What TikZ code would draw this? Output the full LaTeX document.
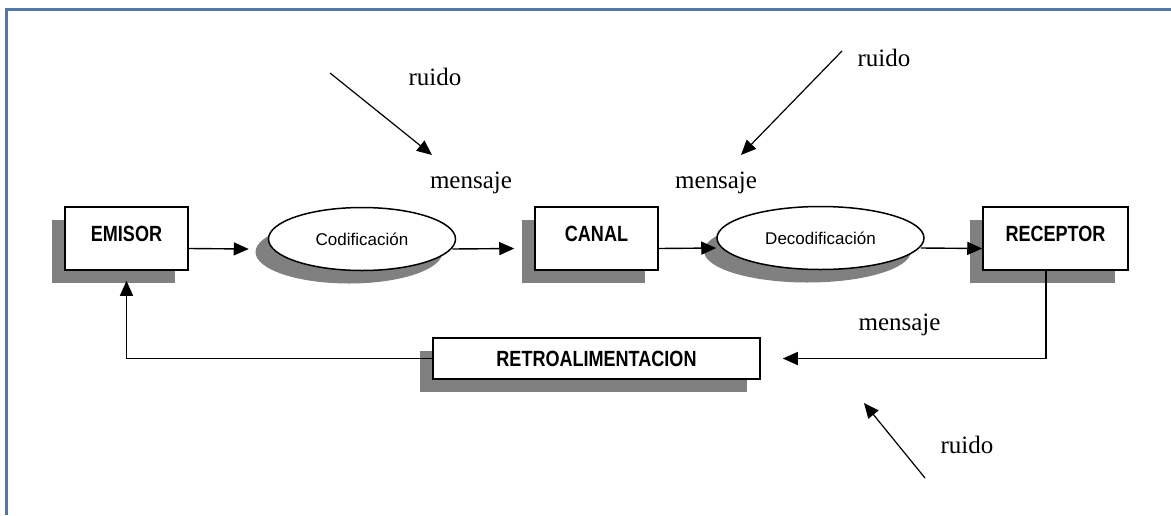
\documentclass[tikz,border=0pt]{standalone}
\usepackage{fontspec}
\setmainfont{Liberation Serif}
\newfontfamily\cajafont[FakeStretch=0.82]{Liberation Sans}
\newfontfamily\elipsefont{Liberation Sans}
\usetikzlibrary{arrows.meta,shapes.geometric,shadows}

\definecolor{marcoazul}{RGB}{79,121,170}
\definecolor{sombragris}{RGB}{128,128,128}

\tikzset{
    sombra/.style={drop shadow={shadow xshift=-13pt,shadow yshift=-13pt,fill=sombragris,opacity=1}},
    caja/.style={draw, line width=1.5pt, fill=white, inner sep=0pt, minimum width=123pt, minimum height=63pt,
        font=\cajafont\bfseries\fontsize{22}{26}\selectfont, text height=16pt, text depth=10pt, sombra},
    elipse/.style={ellipse, draw, line width=1.5pt, fill=white, inner sep=0pt, minimum height=63pt,
        font=\elipsefont\fontsize{17}{20}\selectfont, sombra},
    texto/.style={anchor=base, font=\fontsize{25}{28}\selectfont},
    flecha/.style={-{Triangle[length=15pt,width=13pt]}, line width=1.4pt},
}

\begin{document}
\begin{tikzpicture}[x=1pt,y=-1pt]
    \useasboundingbox (0,0) rectangle (1171,515);
    \draw[marcoazul, line width=3pt] (6,515) -- (6,9) -- (1171,9);

    % fila de arriba
    \node[caja] (emisor) at (126.5,238.5) {EMISOR};
    \node[elipse, minimum width=187pt] (codif) at (362,239) {Codificación};
    \node[caja] (canal) at (596.5,238.5) {CANAL};
    \node[elipse, minimum width=207pt] (decod) at (820.5,238) {Decodificación};
    \node[caja, minimum width=145pt] (receptor) at (1055.5,238.5) {RECEPTOR};

    % retroalimentacion
    \node[caja, minimum width=327pt, minimum height=41pt, text height=16pt, text depth=0pt] (retro) at (596.5,358.5) {RETROALIMENTACION};

    \draw[flecha] ([yshift=-10pt]emisor.east) -- ([xshift=-19pt,yshift=-10pt]codif.west);
    \draw[flecha] ([xshift=-4pt,yshift=-10pt]codif.east) -- ([xshift=-20pt,yshift=-10pt]canal.west);
    \draw[flecha] ([yshift=-10pt]canal.east) -- ([yshift=-10pt]decod.west);
    \draw[flecha] ([xshift=-4pt,yshift=-10pt]decod.east) -- ([yshift=-10pt]receptor.west);
    \draw[flecha] ([xshift=-9.5pt]receptor.south) |- ([xshift=22pt]retro.east);
    \draw[flecha] (retro.west) -| ([yshift=-10pt]emisor.south);

    % ruido y mensaje
    \foreach \n/\x/\y in {1/435/85, 2/884/66, 3/967/453}{
        \node[texto] (ruido\n) at (\x,\y) {ruido};
    }
    \foreach \n/\x/\y in {1/471/188, 2/716/188, 3/899.5/330}{
        \node[texto] (mensaje\n) at (\x,\y) {mensaje};
    }
    \foreach \n/\a/\b/\c/\d in {1/330/73/432/155, 2/842/51/741/155, 3/925/478/864/403}{
        \coordinate (ini\n) at (\a,\b);
        \coordinate (fin\n) at (\c,\d);
        \draw[flecha, line width=1.2pt] (ini\n) -- (fin\n);
    }
\end{tikzpicture}
\end{document}
